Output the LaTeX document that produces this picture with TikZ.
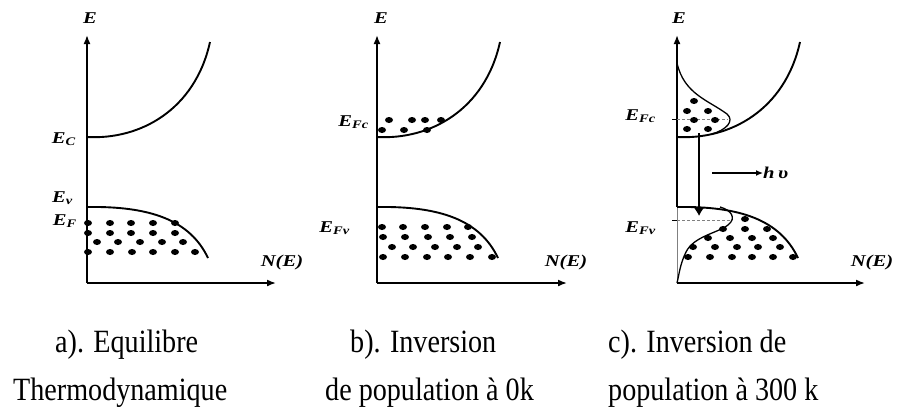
\documentclass[tikz,border=0pt]{standalone}
\usepackage{fontspec}
\setmainfont{Liberation Serif}
\usetikzlibrary{arrows.meta,positioning}
\tikzset{axis/.style = {line width=1.7pt, -{Latex[length=9pt,width=7pt]}},
         band/.style = {line width=1.9pt},
         fermi/.style = {line width=1.3pt},
         level/.style = {dashed, dash pattern=on 3pt off 2pt, gray, line width=0.8pt},
         trans/.style = {line width=1.4pt, -{Latex[length=8pt,width=10pt]}},
         photon/.style = {line width=1.3pt, -{Latex[length=7pt,width=6pt]}},
         dot/.style = {fill=black},
         lbl/.style = {font=\fontsize{16.5}{18}\selectfont\bfseries\itshape, inner sep=0pt},
         legend/.style = {font=\fontsize{29}{32}\selectfont, anchor=base west, inner sep=0pt},
}
\newcommand{\bands}{%
  \draw[band] (0,137) .. controls (53,140) and (108,110) .. (123,42);
  \draw[band] (0,207) .. controls (63,206) and (103,220) .. (121,258);}
\newcommand{\pdot}[2]{\fill[dot] (#1,#2) ellipse (4pt and 3pt);}
\newcommand{\wlbl}[1]{\scalebox{1.25}[1]{#1}}
\newcommand{\tall}[1]{\scalebox{0.97}[1.12]{#1}}

\begin{document}
\begin{tikzpicture}[x=1pt, y=-1pt]
  \useasboundingbox (0,0) rectangle (901,407);

  % a) equilibre
  \coordinate (oa) at (87,283);
  \coordinate (ya) at (87,35);
  \coordinate (xa) at (276,283);
  \draw[axis] (oa) -- (ya);
  \draw[axis] (oa) -- (xa);
  \begin{scope}[shift={(87,0)}] \bands \end{scope}
  \foreach \x in {88,110,131,153,175} {\pdot{\x}{223} \pdot{\x}{233}}
  \foreach \x in {97,118,140,162,183} {\pdot{\x}{242}}
  \foreach \x in {88,110,132,153,175,195} {\pdot{\x}{252}}
  \node[lbl] (Ea) at (90,18) {\wlbl{E}};
  \node[lbl, anchor=east] (Ec) at (76,139) {\wlbl{E\textsubscript{C}}};
  \node[lbl, anchor=east] (Ev) at (73,198) {\wlbl{E\textsubscript{v}}};
  \node[lbl, anchor=east] (Ef) at (77,221) {\wlbl{E\textsubscript{F}}};
  \node[lbl] (NEa) at (282,263) {\wlbl{N(E)}};

  % b) inversion a 0k
  \coordinate (ob) at (377,283);
  \coordinate (yb) at (377,35);
  \coordinate (xb) at (567,283);
  \draw[axis] (ob) -- (yb);
  \draw[axis] (ob) -- (xb);
  \begin{scope}[shift={(377,0)}] \bands \end{scope}
  \foreach \x in {389,412,425,441} {\pdot{\x}{120}}
  \foreach \x in {382,404,427} {\pdot{\x}{130}}
  \foreach \x in {382,403,425,447,468} {\pdot{\x}{227}}
  \foreach \x in {383,405,428,450,472} {\pdot{\x}{237}}
  \foreach \x in {392,413,435,457,478} {\pdot{\x}{247}}
  \foreach \x in {383,405,427,448,470,492} {\pdot{\x}{257}}
  \node[lbl] (Eb) at (381,18) {\wlbl{E}};
  \node[lbl, anchor=east] (Efcb) at (369,122) {\wlbl{E\textsubscript{Fc}}};
  \node[lbl, anchor=east] (Efvb) at (350,228) {\wlbl{E\textsubscript{Fv}}};
  \node[lbl] (NEb) at (566,263) {\wlbl{N(E)}};

  % c) inversion a 300 k
  \coordinate (oc) at (677,283);
  \coordinate (yc) at (677,35);
  \coordinate (xc) at (865,283);
  \coordinate (vc) at (677,207);
  \draw[axis] (vc) -- (yc);
  \draw[gray, line width=1pt] (oc) -- (vc);
  \draw[axis] (oc) -- (xc);
  \begin{scope}[shift={(677,0)}] \bands \end{scope}
  \draw[fermi] (677,63) .. controls (684,94) and (708,100) .. (727,114)
               .. controls (735,121) and (726,130) .. (712,134);
  \draw[fermi] (720,207) .. controls (731,210) and (737,218) .. (728,225)
               .. controls (718,233) and (694,236) .. (686,252)
               .. controls (680,264) and (679,275) .. (677,283);
  \draw[level] (677,119) -- (728,119);
  \draw[level] (677,220) -- (732,220);
  \draw[line width=1pt] (672,119) -- (677,119);
  \draw[line width=1pt] (672,220) -- (677,220);
  \foreach \x in {687,708} {\pdot{\x}{111} \pdot{\x}{129}}
  \foreach \x in {694,715} {\pdot{\x}{120}}
  \pdot{694}{101}
  \pdot{745}{219}
  \foreach \x in {723,745,767} {\pdot{\x}{229}}
  \foreach \x in {708,730,752,773} {\pdot{\x}{238}}
  \foreach \x in {693,715,737,758,780} {\pdot{\x}{247}}
  \foreach \x in {688,710,732,752,773,793} {\pdot{\x}{257}}
  \coordinate (trtop) at (699,133);
  \coordinate (trbot) at (699,216);
  \draw[trans] (trtop) -- (trbot);
  \node[lbl, anchor=west] (hv) at (763,173) {\wlbl{h\,υ}};
  \coordinate (hvstart) at (712,173);
  \draw[photon] (hvstart) -- (hv.west);
  \node[lbl] (Ecc) at (679,18) {\wlbl{E}};
  \node[lbl, anchor=east] (Efcc) at (656,116) {\wlbl{E\textsubscript{Fc}}};
  \node[lbl, anchor=east] (Efvc) at (656,228) {\wlbl{E\textsubscript{Fv}}};
  \node[lbl] (NEc) at (872,263) {\wlbl{N(E)}};

  % legends
  \node[legend] (capa1) at (55,352) {\tall{a). Equilibre}};
  \node[legend] (capa2) at (13,400) {\tall{Thermodynamique}};
  \node[legend] (capb1) at (350,352) {\tall{b). Inversion}};
  \node[legend] (capb2) at (325,400) {\tall{de population à 0k}};
  \node[legend] (capc1) at (608,352) {\tall{c). Inversion de}};
  \node[legend] (capc2) at (608,400) {\tall{population à 300 k}};

\end{tikzpicture}
\end{document}
